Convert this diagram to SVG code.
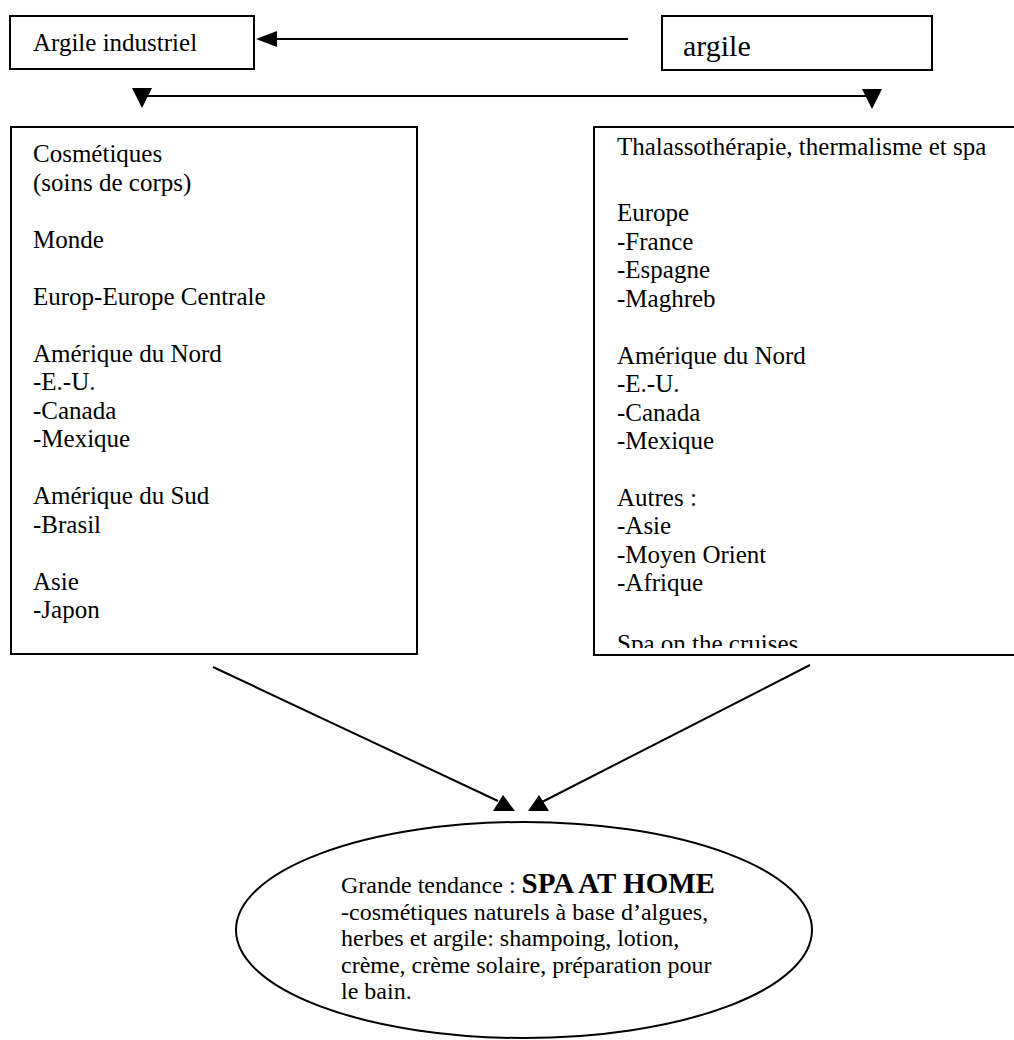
<svg xmlns="http://www.w3.org/2000/svg" width="1014" height="1040" viewBox="0 0 1014 1040">
<style>
  .box { fill: #fff; stroke: #000; stroke-width: 2; }
  .ln { stroke: #000; stroke-width: 2; fill: none; }
  .head { fill: #000; stroke: none; }
  text { font-family: "Liberation Serif", "Times New Roman", serif; fill: #000; }
  .t { font-size: 25px; }
  .e { font-size: 24px; }
  .big { font-size: 30px; }
  .b { font-weight: bold; font-size: 29px; }
</style>
<defs>
  <clipPath id="clipRight">
    <rect x="594" y="127" width="440" height="521"/>
  </clipPath>
</defs>
<rect x="0" y="0" width="1014" height="1040" fill="#fff"/>

<g id="connectors">
  <line class="ln" x1="628" y1="39" x2="270" y2="39"/>
  <polygon class="head" points="256,39 277,31 277,47"/>
  <line class="ln" x1="142" y1="96" x2="872" y2="96"/>
  <polygon class="head" points="132,88 152,88 142,108"/>
  <polygon class="head" points="862,89 882,89 872,109"/>
  <line class="ln" x1="213" y1="667" x2="498" y2="801"/>
  <polygon class="head" points="503,795 493,811 515,811"/>
  <line class="ln" x1="810" y1="665" x2="542" y2="802"/>
  <polygon class="head" points="539,795 528,811 549,811"/>
</g>

<g id="argile-industriel">
  <rect class="box" x="10" y="16" width="244" height="53"/>
  <text class="t" x="33" y="51">Argile industriel</text>
</g>

<g id="argile">
  <rect class="box" x="662" y="16" width="270" height="54"/>
  <text class="big" x="683" y="56">argile</text>
</g>

<g id="cosmetiques">
  <rect class="box" x="11" y="127" width="406" height="527"/>
  <text class="t">
    <tspan x="33" y="162">Cosmétiques</tspan>
    <tspan x="33" y="190.5">(soins de corps)</tspan>
    <tspan x="33" y="247.5">Monde</tspan>
    <tspan x="33" y="304.5">Europ-Europe Centrale</tspan>
    <tspan x="33" y="361.5">Amérique du Nord</tspan>
    <tspan x="33" y="390">-E.-U.</tspan>
    <tspan x="33" y="418.5">-Canada</tspan>
    <tspan x="33" y="447">-Mexique</tspan>
    <tspan x="33" y="504">Amérique du Sud</tspan>
    <tspan x="33" y="532.5">-Brasil</tspan>
    <tspan x="33" y="589.5">Asie</tspan>
    <tspan x="33" y="618">-Japon</tspan>
  </text>
</g>

<g id="thalasso">
  <rect class="box" x="594" y="127" width="440" height="528"/>
  <text class="t">
    <tspan x="617" y="155">Thalassothérapie, thermalisme et spa</tspan>
    <tspan x="617" y="221">Europe</tspan>
    <tspan x="617" y="249.5">-France</tspan>
    <tspan x="617" y="278">-Espagne</tspan>
    <tspan x="617" y="306.5">-Maghreb</tspan>
    <tspan x="617" y="363.5">Amérique du Nord</tspan>
    <tspan x="617" y="392">-E.-U.</tspan>
    <tspan x="617" y="420.5">-Canada</tspan>
    <tspan x="617" y="449">-Mexique</tspan>
    <tspan x="617" y="506">Autres :</tspan>
    <tspan x="617" y="534">-Asie</tspan>
    <tspan x="617" y="563">-Moyen Orient</tspan>
    <tspan x="617" y="591">-Afrique</tspan>
  </text>
  <text class="t" x="617" y="652" clip-path="url(#clipRight)">Spa on the cruises</text>
</g>

<g id="spa-at-home">
  <ellipse class="box" cx="524" cy="930" rx="288" ry="108"/>
  <text class="e">
    <tspan x="341" y="893">Grande tendance : <tspan class="b">SPA AT HOME</tspan></tspan>
    <tspan x="341" y="920">-cosmétiques naturels à base d’algues,</tspan>
    <tspan x="341" y="946">herbes et argile: shampoing, lotion,</tspan>
    <tspan x="341" y="973">crème, crème solaire, préparation pour</tspan>
    <tspan x="341" y="999">le bain.</tspan>
  </text>
</g>
</svg>
